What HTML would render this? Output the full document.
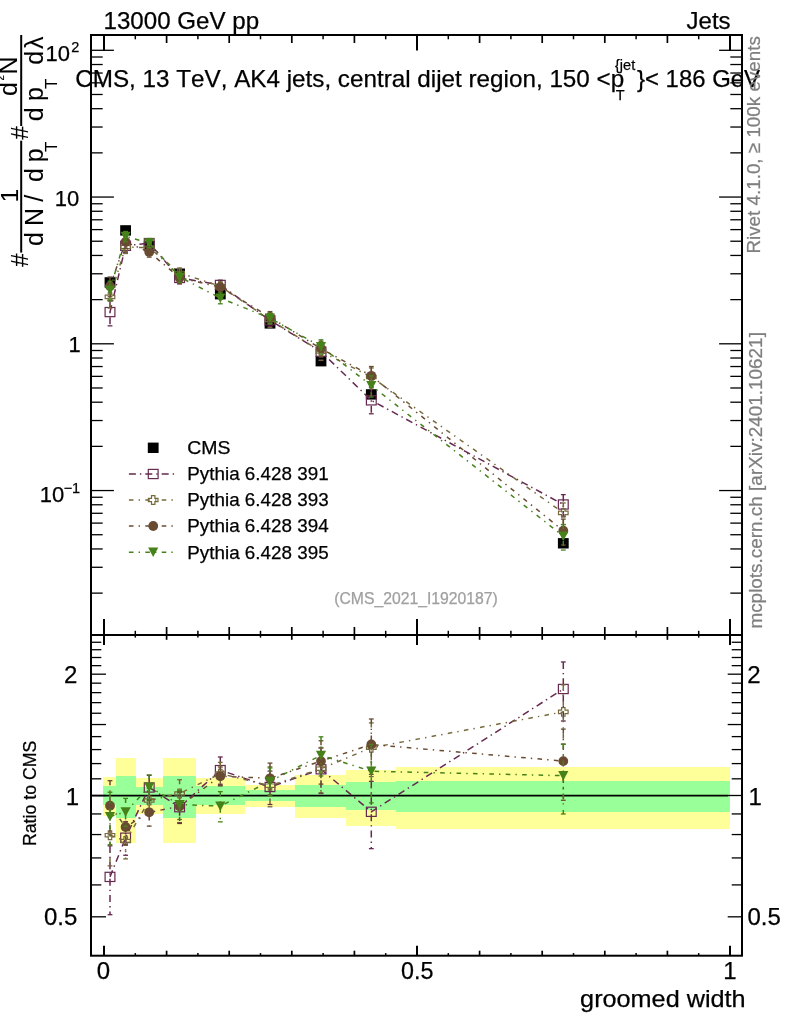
<!DOCTYPE html>
<html lang="en"><head><meta charset="utf-8"><title>groomed width</title>
<style>html,body{margin:0;padding:0;background:#fff}svg{display:block}</style></head>
<body>
<svg width="786" height="1024" viewBox="0 0 786 1024" font-family='"Liberation Sans", sans-serif' style="font-kerning:none" stroke-width="0.25">
<rect x="0.00" y="0.00" width="786.00" height="1024.00" fill="#fff" />
<g shape-rendering="crispEdges">
<rect x="103.20" y="777.30" width="12.90" height="38.20" fill="#ffff99" />
<rect x="116.10" y="758.30" width="19.50" height="84.20" fill="#ffff99" />
<rect x="135.60" y="777.60" width="27.70" height="36.40" fill="#ffff99" />
<rect x="163.30" y="758.30" width="32.60" height="84.50" fill="#ffff99" />
<rect x="195.90" y="777.60" width="49.10" height="36.60" fill="#ffff99" />
<rect x="245.00" y="784.80" width="50.10" height="22.00" fill="#ffff99" />
<rect x="295.10" y="775.40" width="50.90" height="42.10" fill="#ffff99" />
<rect x="346.00" y="769.80" width="50.40" height="55.70" fill="#ffff99" />
<rect x="396.40" y="767.20" width="333.30" height="61.70" fill="#ffff99" />
<rect x="103.20" y="786.40" width="12.90" height="18.90" fill="#99ff99" />
<rect x="116.10" y="776.20" width="19.50" height="41.30" fill="#99ff99" />
<rect x="135.60" y="786.60" width="27.70" height="17.90" fill="#99ff99" />
<rect x="163.30" y="776.20" width="32.60" height="41.60" fill="#99ff99" />
<rect x="195.90" y="786.10" width="49.10" height="18.50" fill="#99ff99" />
<rect x="245.00" y="790.20" width="50.10" height="10.80" fill="#99ff99" />
<rect x="295.10" y="784.90" width="50.90" height="21.60" fill="#99ff99" />
<rect x="346.00" y="782.00" width="50.40" height="27.90" fill="#99ff99" />
<rect x="396.40" y="780.50" width="333.30" height="31.30" fill="#99ff99" />
</g>
<line x1="91.00" y1="795.65" x2="728.00" y2="795.65" stroke="#000" stroke-width="1.6" />
<g id="ratio">
<polyline points="110.00,876.90 125.60,837.70 149.20,787.50 179.60,807.20 220.30,770.10 270.00,787.00 321.00,769.30 371.30,811.80 563.30,689.00" fill="none" stroke="#66294f" stroke-width="1.5" stroke-dasharray="7 4 1.4 4"/>
<line x1="110.00" y1="845.83" x2="110.00" y2="914.70" stroke="#66294f" stroke-width="1.5" stroke-dasharray="7 4 1.4 4"/>
<line x1="107.60" y1="845.83" x2="112.40" y2="845.83" stroke="#66294f" stroke-width="1.3" />
<line x1="107.60" y1="914.70" x2="112.40" y2="914.70" stroke="#66294f" stroke-width="1.3" />
<line x1="125.60" y1="821.74" x2="125.60" y2="855.26" stroke="#66294f" stroke-width="1.5" stroke-dasharray="7 4 1.4 4"/>
<line x1="123.20" y1="821.74" x2="128.00" y2="821.74" stroke="#66294f" stroke-width="1.3" />
<line x1="123.20" y1="855.26" x2="128.00" y2="855.26" stroke="#66294f" stroke-width="1.3" />
<line x1="149.20" y1="775.39" x2="149.20" y2="800.51" stroke="#66294f" stroke-width="1.5" stroke-dasharray="7 4 1.4 4"/>
<line x1="146.80" y1="775.39" x2="151.60" y2="775.39" stroke="#66294f" stroke-width="1.3" />
<line x1="146.80" y1="800.51" x2="151.60" y2="800.51" stroke="#66294f" stroke-width="1.3" />
<line x1="179.60" y1="792.32" x2="179.60" y2="823.46" stroke="#66294f" stroke-width="1.5" stroke-dasharray="7 4 1.4 4"/>
<line x1="177.20" y1="792.32" x2="182.00" y2="792.32" stroke="#66294f" stroke-width="1.3" />
<line x1="177.20" y1="823.46" x2="182.00" y2="823.46" stroke="#66294f" stroke-width="1.3" />
<line x1="220.30" y1="756.98" x2="220.30" y2="784.28" stroke="#66294f" stroke-width="1.5" stroke-dasharray="7 4 1.4 4"/>
<line x1="217.90" y1="756.98" x2="222.70" y2="756.98" stroke="#66294f" stroke-width="1.3" />
<line x1="217.90" y1="784.28" x2="222.70" y2="784.28" stroke="#66294f" stroke-width="1.3" />
<line x1="270.00" y1="771.07" x2="270.00" y2="804.52" stroke="#66294f" stroke-width="1.5" stroke-dasharray="7 4 1.4 4"/>
<line x1="267.60" y1="771.07" x2="272.40" y2="771.07" stroke="#66294f" stroke-width="1.3" />
<line x1="267.60" y1="804.52" x2="272.40" y2="804.52" stroke="#66294f" stroke-width="1.3" />
<line x1="321.00" y1="748.04" x2="321.00" y2="793.50" stroke="#66294f" stroke-width="1.5" stroke-dasharray="7 4 1.4 4"/>
<line x1="318.60" y1="748.04" x2="323.40" y2="748.04" stroke="#66294f" stroke-width="1.3" />
<line x1="318.60" y1="793.50" x2="323.40" y2="793.50" stroke="#66294f" stroke-width="1.3" />
<line x1="371.30" y1="781.37" x2="371.30" y2="848.66" stroke="#66294f" stroke-width="1.5" stroke-dasharray="7 4 1.4 4"/>
<line x1="368.90" y1="781.37" x2="373.70" y2="781.37" stroke="#66294f" stroke-width="1.3" />
<line x1="368.90" y1="848.66" x2="373.70" y2="848.66" stroke="#66294f" stroke-width="1.3" />
<line x1="563.30" y1="661.96" x2="563.30" y2="720.99" stroke="#66294f" stroke-width="1.5" stroke-dasharray="7 4 1.4 4"/>
<line x1="560.90" y1="661.96" x2="565.70" y2="661.96" stroke="#66294f" stroke-width="1.3" />
<line x1="560.90" y1="720.99" x2="565.70" y2="720.99" stroke="#66294f" stroke-width="1.3" />
<rect x="105.10" y="872.30" width="9.8" height="9.2" fill="none" stroke="#66294f" stroke-width="1.2"/>
<rect x="120.70" y="833.10" width="9.8" height="9.2" fill="none" stroke="#66294f" stroke-width="1.2"/>
<rect x="144.30" y="782.90" width="9.8" height="9.2" fill="none" stroke="#66294f" stroke-width="1.2"/>
<rect x="174.70" y="802.60" width="9.8" height="9.2" fill="none" stroke="#66294f" stroke-width="1.2"/>
<rect x="215.40" y="765.50" width="9.8" height="9.2" fill="none" stroke="#66294f" stroke-width="1.2"/>
<rect x="265.10" y="782.40" width="9.8" height="9.2" fill="none" stroke="#66294f" stroke-width="1.2"/>
<rect x="316.10" y="764.70" width="9.8" height="9.2" fill="none" stroke="#66294f" stroke-width="1.2"/>
<rect x="366.40" y="807.20" width="9.8" height="9.2" fill="none" stroke="#66294f" stroke-width="1.2"/>
<rect x="558.40" y="684.40" width="9.8" height="9.2" fill="none" stroke="#66294f" stroke-width="1.2"/>
<polyline points="110.00,835.20 125.60,841.00 149.20,800.50 179.60,793.50 220.30,773.60 270.00,785.70 321.00,768.70 371.30,747.70 563.30,711.90" fill="none" stroke="#766a3c" stroke-width="1.5" stroke-dasharray="4.6 5.1 1.4 5.3"/>
<line x1="110.00" y1="809.13" x2="110.00" y2="865.84" stroke="#766a3c" stroke-width="1.5" stroke-dasharray="4.6 5.1 1.4 5.3"/>
<line x1="107.60" y1="809.13" x2="112.40" y2="809.13" stroke="#766a3c" stroke-width="1.3" />
<line x1="107.60" y1="865.84" x2="112.40" y2="865.84" stroke="#766a3c" stroke-width="1.3" />
<line x1="125.60" y1="824.75" x2="125.60" y2="858.91" stroke="#766a3c" stroke-width="1.5" stroke-dasharray="4.6 5.1 1.4 5.3"/>
<line x1="123.20" y1="824.75" x2="128.00" y2="824.75" stroke="#766a3c" stroke-width="1.3" />
<line x1="123.20" y1="858.91" x2="128.00" y2="858.91" stroke="#766a3c" stroke-width="1.3" />
<line x1="149.20" y1="788.33" x2="149.20" y2="813.58" stroke="#766a3c" stroke-width="1.5" stroke-dasharray="4.6 5.1 1.4 5.3"/>
<line x1="146.80" y1="788.33" x2="151.60" y2="788.33" stroke="#766a3c" stroke-width="1.3" />
<line x1="146.80" y1="813.58" x2="151.60" y2="813.58" stroke="#766a3c" stroke-width="1.3" />
<line x1="179.60" y1="779.70" x2="179.60" y2="808.49" stroke="#766a3c" stroke-width="1.5" stroke-dasharray="4.6 5.1 1.4 5.3"/>
<line x1="177.20" y1="779.70" x2="182.00" y2="779.70" stroke="#766a3c" stroke-width="1.3" />
<line x1="177.20" y1="808.49" x2="182.00" y2="808.49" stroke="#766a3c" stroke-width="1.3" />
<line x1="220.30" y1="762.38" x2="220.30" y2="785.58" stroke="#766a3c" stroke-width="1.5" stroke-dasharray="4.6 5.1 1.4 5.3"/>
<line x1="217.90" y1="762.38" x2="222.70" y2="762.38" stroke="#766a3c" stroke-width="1.3" />
<line x1="217.90" y1="785.58" x2="222.70" y2="785.58" stroke="#766a3c" stroke-width="1.3" />
<line x1="270.00" y1="766.89" x2="270.00" y2="806.78" stroke="#766a3c" stroke-width="1.5" stroke-dasharray="4.6 5.1 1.4 5.3"/>
<line x1="267.60" y1="766.89" x2="272.40" y2="766.89" stroke="#766a3c" stroke-width="1.3" />
<line x1="267.60" y1="806.78" x2="272.40" y2="806.78" stroke="#766a3c" stroke-width="1.3" />
<line x1="321.00" y1="747.51" x2="321.00" y2="792.81" stroke="#766a3c" stroke-width="1.5" stroke-dasharray="4.6 5.1 1.4 5.3"/>
<line x1="318.60" y1="747.51" x2="323.40" y2="747.51" stroke="#766a3c" stroke-width="1.3" />
<line x1="318.60" y1="792.81" x2="323.40" y2="792.81" stroke="#766a3c" stroke-width="1.3" />
<line x1="371.30" y1="722.90" x2="371.30" y2="776.60" stroke="#766a3c" stroke-width="1.5" stroke-dasharray="4.6 5.1 1.4 5.3"/>
<line x1="368.90" y1="722.90" x2="373.70" y2="722.90" stroke="#766a3c" stroke-width="1.3" />
<line x1="368.90" y1="776.60" x2="373.70" y2="776.60" stroke="#766a3c" stroke-width="1.3" />
<line x1="563.30" y1="684.80" x2="563.30" y2="743.98" stroke="#766a3c" stroke-width="1.5" stroke-dasharray="4.6 5.1 1.4 5.3"/>
<line x1="560.90" y1="684.80" x2="565.70" y2="684.80" stroke="#766a3c" stroke-width="1.3" />
<line x1="560.90" y1="743.98" x2="565.70" y2="743.98" stroke="#766a3c" stroke-width="1.3" />
<polygon points="108.30,830.85 111.70,830.85 111.70,833.50 114.80,833.50 114.80,836.90 111.70,836.90 111.70,839.55 108.30,839.55 108.30,836.90 105.20,836.90 105.20,833.50 108.30,833.50" fill="none" stroke="#766a3c" stroke-width="1.2"/>
<polygon points="123.90,836.65 127.30,836.65 127.30,839.30 130.40,839.30 130.40,842.70 127.30,842.70 127.30,845.35 123.90,845.35 123.90,842.70 120.80,842.70 120.80,839.30 123.90,839.30" fill="none" stroke="#766a3c" stroke-width="1.2"/>
<polygon points="147.50,796.15 150.90,796.15 150.90,798.80 154.00,798.80 154.00,802.20 150.90,802.20 150.90,804.85 147.50,804.85 147.50,802.20 144.40,802.20 144.40,798.80 147.50,798.80" fill="none" stroke="#766a3c" stroke-width="1.2"/>
<polygon points="177.90,789.15 181.30,789.15 181.30,791.80 184.40,791.80 184.40,795.20 181.30,795.20 181.30,797.85 177.90,797.85 177.90,795.20 174.80,795.20 174.80,791.80 177.90,791.80" fill="none" stroke="#766a3c" stroke-width="1.2"/>
<polygon points="218.60,769.25 222.00,769.25 222.00,771.90 225.10,771.90 225.10,775.30 222.00,775.30 222.00,777.95 218.60,777.95 218.60,775.30 215.50,775.30 215.50,771.90 218.60,771.90" fill="none" stroke="#766a3c" stroke-width="1.2"/>
<polygon points="268.30,781.35 271.70,781.35 271.70,784.00 274.80,784.00 274.80,787.40 271.70,787.40 271.70,790.05 268.30,790.05 268.30,787.40 265.20,787.40 265.20,784.00 268.30,784.00" fill="none" stroke="#766a3c" stroke-width="1.2"/>
<polygon points="319.30,764.35 322.70,764.35 322.70,767.00 325.80,767.00 325.80,770.40 322.70,770.40 322.70,773.05 319.30,773.05 319.30,770.40 316.20,770.40 316.20,767.00 319.30,767.00" fill="none" stroke="#766a3c" stroke-width="1.2"/>
<polygon points="369.60,743.35 373.00,743.35 373.00,746.00 376.10,746.00 376.10,749.40 373.00,749.40 373.00,752.05 369.60,752.05 369.60,749.40 366.50,749.40 366.50,746.00 369.60,746.00" fill="none" stroke="#766a3c" stroke-width="1.2"/>
<polygon points="561.60,707.55 565.00,707.55 565.00,710.20 568.10,710.20 568.10,713.60 565.00,713.60 565.00,716.25 561.60,716.25 561.60,713.60 558.50,713.60 558.50,710.20 561.60,710.20" fill="none" stroke="#766a3c" stroke-width="1.2"/>
<polyline points="110.00,805.70 125.60,827.00 149.20,812.30 179.60,806.40 220.30,776.20 270.00,778.30 321.00,761.10 371.30,744.50 563.30,761.10" fill="none" stroke="#694b32" stroke-width="1.5" stroke-dasharray="4.6 5.1 1.4 5.3"/>
<line x1="110.00" y1="780.68" x2="110.00" y2="834.91" stroke="#694b32" stroke-width="1.5" stroke-dasharray="4.6 5.1 1.4 5.3"/>
<line x1="107.60" y1="780.68" x2="112.40" y2="780.68" stroke="#694b32" stroke-width="1.3" />
<line x1="107.60" y1="834.91" x2="112.40" y2="834.91" stroke="#694b32" stroke-width="1.3" />
<line x1="125.60" y1="810.99" x2="125.60" y2="844.62" stroke="#694b32" stroke-width="1.5" stroke-dasharray="4.6 5.1 1.4 5.3"/>
<line x1="123.20" y1="810.99" x2="128.00" y2="810.99" stroke="#694b32" stroke-width="1.3" />
<line x1="123.20" y1="844.62" x2="128.00" y2="844.62" stroke="#694b32" stroke-width="1.3" />
<line x1="149.20" y1="799.49" x2="149.20" y2="826.13" stroke="#694b32" stroke-width="1.5" stroke-dasharray="4.6 5.1 1.4 5.3"/>
<line x1="146.80" y1="799.49" x2="151.60" y2="799.49" stroke="#694b32" stroke-width="1.3" />
<line x1="146.80" y1="826.13" x2="151.60" y2="826.13" stroke="#694b32" stroke-width="1.3" />
<line x1="179.60" y1="791.58" x2="179.60" y2="822.59" stroke="#694b32" stroke-width="1.5" stroke-dasharray="4.6 5.1 1.4 5.3"/>
<line x1="177.20" y1="791.58" x2="182.00" y2="791.58" stroke="#694b32" stroke-width="1.3" />
<line x1="177.20" y1="822.59" x2="182.00" y2="822.59" stroke="#694b32" stroke-width="1.3" />
<line x1="220.30" y1="767.04" x2="220.30" y2="785.87" stroke="#694b32" stroke-width="1.5" stroke-dasharray="4.6 5.1 1.4 5.3"/>
<line x1="217.90" y1="767.04" x2="222.70" y2="767.04" stroke="#694b32" stroke-width="1.3" />
<line x1="217.90" y1="785.87" x2="222.70" y2="785.87" stroke="#694b32" stroke-width="1.3" />
<line x1="270.00" y1="763.11" x2="270.00" y2="794.93" stroke="#694b32" stroke-width="1.5" stroke-dasharray="4.6 5.1 1.4 5.3"/>
<line x1="267.60" y1="763.11" x2="272.40" y2="763.11" stroke="#694b32" stroke-width="1.3" />
<line x1="267.60" y1="794.93" x2="272.40" y2="794.93" stroke="#694b32" stroke-width="1.3" />
<line x1="321.00" y1="740.76" x2="321.00" y2="784.12" stroke="#694b32" stroke-width="1.5" stroke-dasharray="4.6 5.1 1.4 5.3"/>
<line x1="318.60" y1="740.76" x2="323.40" y2="740.76" stroke="#694b32" stroke-width="1.3" />
<line x1="318.60" y1="784.12" x2="323.40" y2="784.12" stroke="#694b32" stroke-width="1.3" />
<line x1="371.30" y1="718.99" x2="371.30" y2="774.37" stroke="#694b32" stroke-width="1.5" stroke-dasharray="4.6 5.1 1.4 5.3"/>
<line x1="368.90" y1="718.99" x2="373.70" y2="718.99" stroke="#694b32" stroke-width="1.3" />
<line x1="368.90" y1="774.37" x2="373.70" y2="774.37" stroke="#694b32" stroke-width="1.3" />
<line x1="563.30" y1="729.12" x2="563.30" y2="800.26" stroke="#694b32" stroke-width="1.5" stroke-dasharray="4.6 5.1 1.4 5.3"/>
<line x1="560.90" y1="729.12" x2="565.70" y2="729.12" stroke="#694b32" stroke-width="1.3" />
<line x1="560.90" y1="800.26" x2="565.70" y2="800.26" stroke="#694b32" stroke-width="1.3" />
<circle cx="110.00" cy="805.70" r="4.9" fill="#694b32"/>
<circle cx="125.60" cy="827.00" r="4.9" fill="#694b32"/>
<circle cx="149.20" cy="812.30" r="4.9" fill="#694b32"/>
<circle cx="179.60" cy="806.40" r="4.9" fill="#694b32"/>
<circle cx="220.30" cy="776.20" r="4.9" fill="#694b32"/>
<circle cx="270.00" cy="778.30" r="4.9" fill="#694b32"/>
<circle cx="321.00" cy="761.10" r="4.9" fill="#694b32"/>
<circle cx="371.30" cy="744.50" r="4.9" fill="#694b32"/>
<circle cx="563.30" cy="761.10" r="4.9" fill="#694b32"/>
<polyline points="110.00,816.50 125.60,811.90 149.20,787.00 179.60,804.50 220.30,806.10 270.00,781.30 321.00,755.30 371.30,771.20 563.30,775.70" fill="none" stroke="#468219" stroke-width="1.5" stroke-dasharray="4.6 5.1 1.4 5.3"/>
<line x1="110.00" y1="792.22" x2="110.00" y2="844.70" stroke="#468219" stroke-width="1.5" stroke-dasharray="4.6 5.1 1.4 5.3"/>
<line x1="107.60" y1="792.22" x2="112.40" y2="792.22" stroke="#468219" stroke-width="1.3" />
<line x1="107.60" y1="844.70" x2="112.40" y2="844.70" stroke="#468219" stroke-width="1.3" />
<line x1="125.60" y1="798.40" x2="125.60" y2="826.53" stroke="#468219" stroke-width="1.5" stroke-dasharray="4.6 5.1 1.4 5.3"/>
<line x1="123.20" y1="798.40" x2="128.00" y2="798.40" stroke="#468219" stroke-width="1.3" />
<line x1="123.20" y1="826.53" x2="128.00" y2="826.53" stroke="#468219" stroke-width="1.3" />
<line x1="149.20" y1="774.92" x2="149.20" y2="799.97" stroke="#468219" stroke-width="1.5" stroke-dasharray="4.6 5.1 1.4 5.3"/>
<line x1="146.80" y1="774.92" x2="151.60" y2="774.92" stroke="#468219" stroke-width="1.3" />
<line x1="146.80" y1="799.97" x2="151.60" y2="799.97" stroke="#468219" stroke-width="1.3" />
<line x1="179.60" y1="790.69" x2="179.60" y2="819.50" stroke="#468219" stroke-width="1.5" stroke-dasharray="4.6 5.1 1.4 5.3"/>
<line x1="177.20" y1="790.69" x2="182.00" y2="790.69" stroke="#468219" stroke-width="1.3" />
<line x1="177.20" y1="819.50" x2="182.00" y2="819.50" stroke="#468219" stroke-width="1.3" />
<line x1="220.30" y1="791.65" x2="220.30" y2="821.85" stroke="#468219" stroke-width="1.5" stroke-dasharray="4.6 5.1 1.4 5.3"/>
<line x1="217.90" y1="791.65" x2="222.70" y2="791.65" stroke="#468219" stroke-width="1.3" />
<line x1="217.90" y1="821.85" x2="222.70" y2="821.85" stroke="#468219" stroke-width="1.3" />
<line x1="270.00" y1="767.94" x2="270.00" y2="795.76" stroke="#468219" stroke-width="1.5" stroke-dasharray="4.6 5.1 1.4 5.3"/>
<line x1="267.60" y1="767.94" x2="272.40" y2="767.94" stroke="#468219" stroke-width="1.3" />
<line x1="267.60" y1="795.76" x2="272.40" y2="795.76" stroke="#468219" stroke-width="1.3" />
<line x1="321.00" y1="736.83" x2="321.00" y2="775.95" stroke="#468219" stroke-width="1.5" stroke-dasharray="4.6 5.1 1.4 5.3"/>
<line x1="318.60" y1="736.83" x2="323.40" y2="736.83" stroke="#468219" stroke-width="1.3" />
<line x1="318.60" y1="775.95" x2="323.40" y2="775.95" stroke="#468219" stroke-width="1.3" />
<line x1="371.30" y1="744.42" x2="371.30" y2="802.84" stroke="#468219" stroke-width="1.5" stroke-dasharray="4.6 5.1 1.4 5.3"/>
<line x1="368.90" y1="744.42" x2="373.70" y2="744.42" stroke="#468219" stroke-width="1.3" />
<line x1="368.90" y1="802.84" x2="373.70" y2="802.84" stroke="#468219" stroke-width="1.3" />
<line x1="563.30" y1="744.31" x2="563.30" y2="813.98" stroke="#468219" stroke-width="1.5" stroke-dasharray="4.6 5.1 1.4 5.3"/>
<line x1="560.90" y1="744.31" x2="565.70" y2="744.31" stroke="#468219" stroke-width="1.3" />
<line x1="560.90" y1="813.98" x2="565.70" y2="813.98" stroke="#468219" stroke-width="1.3" />
<polygon points="104.90,811.90 115.10,811.90 110.00,821.40" fill="#468219"/>
<polygon points="120.50,807.30 130.70,807.30 125.60,816.80" fill="#468219"/>
<polygon points="144.10,782.40 154.30,782.40 149.20,791.90" fill="#468219"/>
<polygon points="174.50,799.90 184.70,799.90 179.60,809.40" fill="#468219"/>
<polygon points="215.20,801.50 225.40,801.50 220.30,811.00" fill="#468219"/>
<polygon points="264.90,776.70 275.10,776.70 270.00,786.20" fill="#468219"/>
<polygon points="315.90,750.70 326.10,750.70 321.00,760.20" fill="#468219"/>
<polygon points="366.20,766.60 376.40,766.60 371.30,776.10" fill="#468219"/>
<polygon points="558.20,771.10 568.40,771.10 563.30,780.60" fill="#468219"/>
</g>
<g id="main">
<rect x="104.60" y="277.20" width="10.80" height="10.40" fill="#000" />
<rect x="120.20" y="225.20" width="10.80" height="10.40" fill="#000" />
<rect x="143.80" y="240.80" width="10.80" height="10.40" fill="#000" />
<rect x="174.20" y="268.50" width="10.80" height="10.40" fill="#000" />
<rect x="214.90" y="289.00" width="10.80" height="10.40" fill="#000" />
<rect x="264.60" y="318.20" width="10.80" height="10.40" fill="#000" />
<rect x="315.60" y="356.00" width="10.80" height="10.40" fill="#000" />
<rect x="365.90" y="389.20" width="10.80" height="10.40" fill="#000" />
<rect x="557.90" y="538.10" width="10.80" height="10.40" fill="#000" />
<polyline points="110.00,312.07 125.60,245.78 149.20,243.08 179.60,277.96 220.30,284.94 270.00,320.30 321.00,351.65 371.30,400.34 563.30,504.48" fill="none" stroke="#66294f" stroke-width="1.5" stroke-dasharray="7 4 1.4 4"/>
<line x1="110.00" y1="300.75" x2="110.00" y2="325.85" stroke="#66294f" stroke-width="1.5" stroke-dasharray="7 4 1.4 4"/>
<line x1="107.60" y1="300.75" x2="112.40" y2="300.75" stroke="#66294f" stroke-width="1.3" />
<line x1="107.60" y1="325.85" x2="112.40" y2="325.85" stroke="#66294f" stroke-width="1.3" />
<line x1="125.60" y1="239.97" x2="125.60" y2="252.18" stroke="#66294f" stroke-width="1.5" stroke-dasharray="7 4 1.4 4"/>
<line x1="123.20" y1="239.97" x2="128.00" y2="239.97" stroke="#66294f" stroke-width="1.3" />
<line x1="123.20" y1="252.18" x2="128.00" y2="252.18" stroke="#66294f" stroke-width="1.3" />
<line x1="149.20" y1="238.67" x2="149.20" y2="247.83" stroke="#66294f" stroke-width="1.5" stroke-dasharray="7 4 1.4 4"/>
<line x1="146.80" y1="238.67" x2="151.60" y2="238.67" stroke="#66294f" stroke-width="1.3" />
<line x1="146.80" y1="247.83" x2="151.60" y2="247.83" stroke="#66294f" stroke-width="1.3" />
<line x1="179.60" y1="272.54" x2="179.60" y2="283.89" stroke="#66294f" stroke-width="1.5" stroke-dasharray="7 4 1.4 4"/>
<line x1="177.20" y1="272.54" x2="182.00" y2="272.54" stroke="#66294f" stroke-width="1.3" />
<line x1="177.20" y1="283.89" x2="182.00" y2="283.89" stroke="#66294f" stroke-width="1.3" />
<line x1="220.30" y1="280.16" x2="220.30" y2="290.11" stroke="#66294f" stroke-width="1.5" stroke-dasharray="7 4 1.4 4"/>
<line x1="217.90" y1="280.16" x2="222.70" y2="280.16" stroke="#66294f" stroke-width="1.3" />
<line x1="217.90" y1="290.11" x2="222.70" y2="290.11" stroke="#66294f" stroke-width="1.3" />
<line x1="270.00" y1="314.50" x2="270.00" y2="326.69" stroke="#66294f" stroke-width="1.5" stroke-dasharray="7 4 1.4 4"/>
<line x1="267.60" y1="314.50" x2="272.40" y2="314.50" stroke="#66294f" stroke-width="1.3" />
<line x1="267.60" y1="326.69" x2="272.40" y2="326.69" stroke="#66294f" stroke-width="1.3" />
<line x1="321.00" y1="343.90" x2="321.00" y2="360.47" stroke="#66294f" stroke-width="1.5" stroke-dasharray="7 4 1.4 4"/>
<line x1="318.60" y1="343.90" x2="323.40" y2="343.90" stroke="#66294f" stroke-width="1.3" />
<line x1="318.60" y1="360.47" x2="323.40" y2="360.47" stroke="#66294f" stroke-width="1.3" />
<line x1="371.30" y1="389.25" x2="371.30" y2="413.78" stroke="#66294f" stroke-width="1.5" stroke-dasharray="7 4 1.4 4"/>
<line x1="368.90" y1="389.25" x2="373.70" y2="389.25" stroke="#66294f" stroke-width="1.3" />
<line x1="368.90" y1="413.78" x2="373.70" y2="413.78" stroke="#66294f" stroke-width="1.3" />
<line x1="563.30" y1="494.62" x2="563.30" y2="516.14" stroke="#66294f" stroke-width="1.5" stroke-dasharray="7 4 1.4 4"/>
<line x1="560.90" y1="494.62" x2="565.70" y2="494.62" stroke="#66294f" stroke-width="1.3" />
<line x1="560.90" y1="516.14" x2="565.70" y2="516.14" stroke="#66294f" stroke-width="1.3" />
<rect x="105.10" y="307.47" width="9.8" height="9.2" fill="none" stroke="#66294f" stroke-width="1.2"/>
<rect x="120.70" y="241.18" width="9.8" height="9.2" fill="none" stroke="#66294f" stroke-width="1.2"/>
<rect x="144.30" y="238.48" width="9.8" height="9.2" fill="none" stroke="#66294f" stroke-width="1.2"/>
<rect x="174.70" y="273.36" width="9.8" height="9.2" fill="none" stroke="#66294f" stroke-width="1.2"/>
<rect x="215.40" y="280.34" width="9.8" height="9.2" fill="none" stroke="#66294f" stroke-width="1.2"/>
<rect x="265.10" y="315.70" width="9.8" height="9.2" fill="none" stroke="#66294f" stroke-width="1.2"/>
<rect x="316.10" y="347.05" width="9.8" height="9.2" fill="none" stroke="#66294f" stroke-width="1.2"/>
<rect x="366.40" y="395.74" width="9.8" height="9.2" fill="none" stroke="#66294f" stroke-width="1.2"/>
<rect x="558.40" y="499.88" width="9.8" height="9.2" fill="none" stroke="#66294f" stroke-width="1.2"/>
<polyline points="110.00,296.87 125.60,246.99 149.20,247.82 179.60,272.97 220.30,286.22 270.00,319.83 321.00,351.43 371.30,376.98 563.30,512.83" fill="none" stroke="#766a3c" stroke-width="1.5" stroke-dasharray="4.6 5.1 1.4 5.3"/>
<line x1="110.00" y1="287.37" x2="110.00" y2="308.04" stroke="#766a3c" stroke-width="1.5" stroke-dasharray="4.6 5.1 1.4 5.3"/>
<line x1="107.60" y1="287.37" x2="112.40" y2="287.37" stroke="#766a3c" stroke-width="1.3" />
<line x1="107.60" y1="308.04" x2="112.40" y2="308.04" stroke="#766a3c" stroke-width="1.3" />
<line x1="125.60" y1="241.06" x2="125.60" y2="253.51" stroke="#766a3c" stroke-width="1.5" stroke-dasharray="4.6 5.1 1.4 5.3"/>
<line x1="123.20" y1="241.06" x2="128.00" y2="241.06" stroke="#766a3c" stroke-width="1.3" />
<line x1="123.20" y1="253.51" x2="128.00" y2="253.51" stroke="#766a3c" stroke-width="1.3" />
<line x1="149.20" y1="243.39" x2="149.20" y2="252.59" stroke="#766a3c" stroke-width="1.5" stroke-dasharray="4.6 5.1 1.4 5.3"/>
<line x1="146.80" y1="243.39" x2="151.60" y2="243.39" stroke="#766a3c" stroke-width="1.3" />
<line x1="146.80" y1="252.59" x2="151.60" y2="252.59" stroke="#766a3c" stroke-width="1.3" />
<line x1="179.60" y1="267.94" x2="179.60" y2="278.43" stroke="#766a3c" stroke-width="1.5" stroke-dasharray="4.6 5.1 1.4 5.3"/>
<line x1="177.20" y1="267.94" x2="182.00" y2="267.94" stroke="#766a3c" stroke-width="1.3" />
<line x1="177.20" y1="278.43" x2="182.00" y2="278.43" stroke="#766a3c" stroke-width="1.3" />
<line x1="220.30" y1="282.13" x2="220.30" y2="290.59" stroke="#766a3c" stroke-width="1.5" stroke-dasharray="4.6 5.1 1.4 5.3"/>
<line x1="217.90" y1="282.13" x2="222.70" y2="282.13" stroke="#766a3c" stroke-width="1.3" />
<line x1="217.90" y1="290.59" x2="222.70" y2="290.59" stroke="#766a3c" stroke-width="1.3" />
<line x1="270.00" y1="312.97" x2="270.00" y2="327.51" stroke="#766a3c" stroke-width="1.5" stroke-dasharray="4.6 5.1 1.4 5.3"/>
<line x1="267.60" y1="312.97" x2="272.40" y2="312.97" stroke="#766a3c" stroke-width="1.3" />
<line x1="267.60" y1="327.51" x2="272.40" y2="327.51" stroke="#766a3c" stroke-width="1.3" />
<line x1="321.00" y1="343.71" x2="321.00" y2="360.22" stroke="#766a3c" stroke-width="1.5" stroke-dasharray="4.6 5.1 1.4 5.3"/>
<line x1="318.60" y1="343.71" x2="323.40" y2="343.71" stroke="#766a3c" stroke-width="1.3" />
<line x1="318.60" y1="360.22" x2="323.40" y2="360.22" stroke="#766a3c" stroke-width="1.3" />
<line x1="371.30" y1="367.94" x2="371.30" y2="387.51" stroke="#766a3c" stroke-width="1.5" stroke-dasharray="4.6 5.1 1.4 5.3"/>
<line x1="368.90" y1="367.94" x2="373.70" y2="367.94" stroke="#766a3c" stroke-width="1.3" />
<line x1="368.90" y1="387.51" x2="373.70" y2="387.51" stroke="#766a3c" stroke-width="1.3" />
<line x1="563.30" y1="502.95" x2="563.30" y2="524.52" stroke="#766a3c" stroke-width="1.5" stroke-dasharray="4.6 5.1 1.4 5.3"/>
<line x1="560.90" y1="502.95" x2="565.70" y2="502.95" stroke="#766a3c" stroke-width="1.3" />
<line x1="560.90" y1="524.52" x2="565.70" y2="524.52" stroke="#766a3c" stroke-width="1.3" />
<polygon points="108.30,292.52 111.70,292.52 111.70,295.17 114.80,295.17 114.80,298.57 111.70,298.57 111.70,301.22 108.30,301.22 108.30,298.57 105.20,298.57 105.20,295.17 108.30,295.17" fill="none" stroke="#766a3c" stroke-width="1.2"/>
<polygon points="123.90,242.64 127.30,242.64 127.30,245.29 130.40,245.29 130.40,248.69 127.30,248.69 127.30,251.34 123.90,251.34 123.90,248.69 120.80,248.69 120.80,245.29 123.90,245.29" fill="none" stroke="#766a3c" stroke-width="1.2"/>
<polygon points="147.50,243.47 150.90,243.47 150.90,246.12 154.00,246.12 154.00,249.52 150.90,249.52 150.90,252.17 147.50,252.17 147.50,249.52 144.40,249.52 144.40,246.12 147.50,246.12" fill="none" stroke="#766a3c" stroke-width="1.2"/>
<polygon points="177.90,268.62 181.30,268.62 181.30,271.27 184.40,271.27 184.40,274.67 181.30,274.67 181.30,277.32 177.90,277.32 177.90,274.67 174.80,274.67 174.80,271.27 177.90,271.27" fill="none" stroke="#766a3c" stroke-width="1.2"/>
<polygon points="218.60,281.87 222.00,281.87 222.00,284.52 225.10,284.52 225.10,287.92 222.00,287.92 222.00,290.57 218.60,290.57 218.60,287.92 215.50,287.92 215.50,284.52 218.60,284.52" fill="none" stroke="#766a3c" stroke-width="1.2"/>
<polygon points="268.30,315.48 271.70,315.48 271.70,318.13 274.80,318.13 274.80,321.53 271.70,321.53 271.70,324.18 268.30,324.18 268.30,321.53 265.20,321.53 265.20,318.13 268.30,318.13" fill="none" stroke="#766a3c" stroke-width="1.2"/>
<polygon points="319.30,347.08 322.70,347.08 322.70,349.73 325.80,349.73 325.80,353.13 322.70,353.13 322.70,355.78 319.30,355.78 319.30,353.13 316.20,353.13 316.20,349.73 319.30,349.73" fill="none" stroke="#766a3c" stroke-width="1.2"/>
<polygon points="369.60,372.63 373.00,372.63 373.00,375.28 376.10,375.28 376.10,378.68 373.00,378.68 373.00,381.33 369.60,381.33 369.60,378.68 366.50,378.68 366.50,375.28 369.60,375.28" fill="none" stroke="#766a3c" stroke-width="1.2"/>
<polygon points="561.60,508.48 565.00,508.48 565.00,511.13 568.10,511.13 568.10,514.53 565.00,514.53 565.00,517.18 561.60,517.18 561.60,514.53 558.50,514.53 558.50,511.13 561.60,511.13" fill="none" stroke="#766a3c" stroke-width="1.2"/>
<polyline points="110.00,286.12 125.60,241.88 149.20,252.12 179.60,277.67 220.30,287.16 270.00,317.13 321.00,348.66 371.30,375.81 563.30,530.76" fill="none" stroke="#694b32" stroke-width="1.5" stroke-dasharray="4.6 5.1 1.4 5.3"/>
<line x1="110.00" y1="277.00" x2="110.00" y2="296.76" stroke="#694b32" stroke-width="1.5" stroke-dasharray="4.6 5.1 1.4 5.3"/>
<line x1="107.60" y1="277.00" x2="112.40" y2="277.00" stroke="#694b32" stroke-width="1.3" />
<line x1="107.60" y1="296.76" x2="112.40" y2="296.76" stroke="#694b32" stroke-width="1.3" />
<line x1="125.60" y1="236.05" x2="125.60" y2="248.31" stroke="#694b32" stroke-width="1.5" stroke-dasharray="4.6 5.1 1.4 5.3"/>
<line x1="123.20" y1="236.05" x2="128.00" y2="236.05" stroke="#694b32" stroke-width="1.3" />
<line x1="123.20" y1="248.31" x2="128.00" y2="248.31" stroke="#694b32" stroke-width="1.3" />
<line x1="149.20" y1="247.45" x2="149.20" y2="257.16" stroke="#694b32" stroke-width="1.5" stroke-dasharray="4.6 5.1 1.4 5.3"/>
<line x1="146.80" y1="247.45" x2="151.60" y2="247.45" stroke="#694b32" stroke-width="1.3" />
<line x1="146.80" y1="257.16" x2="151.60" y2="257.16" stroke="#694b32" stroke-width="1.3" />
<line x1="179.60" y1="272.27" x2="179.60" y2="283.57" stroke="#694b32" stroke-width="1.5" stroke-dasharray="4.6 5.1 1.4 5.3"/>
<line x1="177.20" y1="272.27" x2="182.00" y2="272.27" stroke="#694b32" stroke-width="1.3" />
<line x1="177.20" y1="283.57" x2="182.00" y2="283.57" stroke="#694b32" stroke-width="1.3" />
<line x1="220.30" y1="283.83" x2="220.30" y2="290.69" stroke="#694b32" stroke-width="1.5" stroke-dasharray="4.6 5.1 1.4 5.3"/>
<line x1="217.90" y1="283.83" x2="222.70" y2="283.83" stroke="#694b32" stroke-width="1.3" />
<line x1="217.90" y1="290.69" x2="222.70" y2="290.69" stroke="#694b32" stroke-width="1.3" />
<line x1="270.00" y1="311.59" x2="270.00" y2="323.19" stroke="#694b32" stroke-width="1.5" stroke-dasharray="4.6 5.1 1.4 5.3"/>
<line x1="267.60" y1="311.59" x2="272.40" y2="311.59" stroke="#694b32" stroke-width="1.3" />
<line x1="267.60" y1="323.19" x2="272.40" y2="323.19" stroke="#694b32" stroke-width="1.3" />
<line x1="321.00" y1="341.25" x2="321.00" y2="357.05" stroke="#694b32" stroke-width="1.5" stroke-dasharray="4.6 5.1 1.4 5.3"/>
<line x1="318.60" y1="341.25" x2="323.40" y2="341.25" stroke="#694b32" stroke-width="1.3" />
<line x1="318.60" y1="357.05" x2="323.40" y2="357.05" stroke="#694b32" stroke-width="1.3" />
<line x1="371.30" y1="366.51" x2="371.30" y2="386.70" stroke="#694b32" stroke-width="1.5" stroke-dasharray="4.6 5.1 1.4 5.3"/>
<line x1="368.90" y1="366.51" x2="373.70" y2="366.51" stroke="#694b32" stroke-width="1.3" />
<line x1="368.90" y1="386.70" x2="373.70" y2="386.70" stroke="#694b32" stroke-width="1.3" />
<line x1="563.30" y1="519.10" x2="563.30" y2="545.03" stroke="#694b32" stroke-width="1.5" stroke-dasharray="4.6 5.1 1.4 5.3"/>
<line x1="560.90" y1="519.10" x2="565.70" y2="519.10" stroke="#694b32" stroke-width="1.3" />
<line x1="560.90" y1="545.03" x2="565.70" y2="545.03" stroke="#694b32" stroke-width="1.3" />
<circle cx="110.00" cy="286.12" r="4.9" fill="#694b32"/>
<circle cx="125.60" cy="241.88" r="4.9" fill="#694b32"/>
<circle cx="149.20" cy="252.12" r="4.9" fill="#694b32"/>
<circle cx="179.60" cy="277.67" r="4.9" fill="#694b32"/>
<circle cx="220.30" cy="287.16" r="4.9" fill="#694b32"/>
<circle cx="270.00" cy="317.13" r="4.9" fill="#694b32"/>
<circle cx="321.00" cy="348.66" r="4.9" fill="#694b32"/>
<circle cx="371.30" cy="375.81" r="4.9" fill="#694b32"/>
<circle cx="563.30" cy="530.76" r="4.9" fill="#694b32"/>
<polyline points="110.00,290.05 125.60,236.38 149.20,242.90 179.60,276.98 220.30,298.06 270.00,318.22 321.00,346.55 371.30,385.54 563.30,536.08" fill="none" stroke="#468219" stroke-width="1.5" stroke-dasharray="4.6 5.1 1.4 5.3"/>
<line x1="110.00" y1="281.20" x2="110.00" y2="300.34" stroke="#468219" stroke-width="1.5" stroke-dasharray="4.6 5.1 1.4 5.3"/>
<line x1="107.60" y1="281.20" x2="112.40" y2="281.20" stroke="#468219" stroke-width="1.3" />
<line x1="107.60" y1="300.34" x2="112.40" y2="300.34" stroke="#468219" stroke-width="1.3" />
<line x1="125.60" y1="231.46" x2="125.60" y2="241.71" stroke="#468219" stroke-width="1.5" stroke-dasharray="4.6 5.1 1.4 5.3"/>
<line x1="123.20" y1="231.46" x2="128.00" y2="231.46" stroke="#468219" stroke-width="1.3" />
<line x1="123.20" y1="241.71" x2="128.00" y2="241.71" stroke="#468219" stroke-width="1.3" />
<line x1="149.20" y1="238.50" x2="149.20" y2="247.63" stroke="#468219" stroke-width="1.5" stroke-dasharray="4.6 5.1 1.4 5.3"/>
<line x1="146.80" y1="238.50" x2="151.60" y2="238.50" stroke="#468219" stroke-width="1.3" />
<line x1="146.80" y1="247.63" x2="151.60" y2="247.63" stroke="#468219" stroke-width="1.3" />
<line x1="179.60" y1="271.95" x2="179.60" y2="282.45" stroke="#468219" stroke-width="1.5" stroke-dasharray="4.6 5.1 1.4 5.3"/>
<line x1="177.20" y1="271.95" x2="182.00" y2="271.95" stroke="#468219" stroke-width="1.3" />
<line x1="177.20" y1="282.45" x2="182.00" y2="282.45" stroke="#468219" stroke-width="1.3" />
<line x1="220.30" y1="292.80" x2="220.30" y2="303.80" stroke="#468219" stroke-width="1.5" stroke-dasharray="4.6 5.1 1.4 5.3"/>
<line x1="217.90" y1="292.80" x2="222.70" y2="292.80" stroke="#468219" stroke-width="1.3" />
<line x1="217.90" y1="303.80" x2="222.70" y2="303.80" stroke="#468219" stroke-width="1.3" />
<line x1="270.00" y1="313.36" x2="270.00" y2="323.49" stroke="#468219" stroke-width="1.5" stroke-dasharray="4.6 5.1 1.4 5.3"/>
<line x1="267.60" y1="313.36" x2="272.40" y2="313.36" stroke="#468219" stroke-width="1.3" />
<line x1="267.60" y1="323.49" x2="272.40" y2="323.49" stroke="#468219" stroke-width="1.3" />
<line x1="321.00" y1="339.82" x2="321.00" y2="354.07" stroke="#468219" stroke-width="1.5" stroke-dasharray="4.6 5.1 1.4 5.3"/>
<line x1="318.60" y1="339.82" x2="323.40" y2="339.82" stroke="#468219" stroke-width="1.3" />
<line x1="318.60" y1="354.07" x2="323.40" y2="354.07" stroke="#468219" stroke-width="1.3" />
<line x1="371.30" y1="375.78" x2="371.30" y2="397.07" stroke="#468219" stroke-width="1.5" stroke-dasharray="4.6 5.1 1.4 5.3"/>
<line x1="368.90" y1="375.78" x2="373.70" y2="375.78" stroke="#468219" stroke-width="1.3" />
<line x1="368.90" y1="397.07" x2="373.70" y2="397.07" stroke="#468219" stroke-width="1.3" />
<line x1="563.30" y1="524.64" x2="563.30" y2="550.04" stroke="#468219" stroke-width="1.5" stroke-dasharray="4.6 5.1 1.4 5.3"/>
<line x1="560.90" y1="524.64" x2="565.70" y2="524.64" stroke="#468219" stroke-width="1.3" />
<line x1="560.90" y1="550.04" x2="565.70" y2="550.04" stroke="#468219" stroke-width="1.3" />
<polygon points="104.90,285.45 115.10,285.45 110.00,294.95" fill="#468219"/>
<polygon points="120.50,231.78 130.70,231.78 125.60,241.28" fill="#468219"/>
<polygon points="144.10,238.30 154.30,238.30 149.20,247.80" fill="#468219"/>
<polygon points="174.50,272.38 184.70,272.38 179.60,281.88" fill="#468219"/>
<polygon points="215.20,293.46 225.40,293.46 220.30,302.96" fill="#468219"/>
<polygon points="264.90,313.62 275.10,313.62 270.00,323.12" fill="#468219"/>
<polygon points="315.90,341.95 326.10,341.95 321.00,351.45" fill="#468219"/>
<polygon points="366.20,380.94 376.40,380.94 371.30,390.44" fill="#468219"/>
<polygon points="558.20,531.48 568.40,531.48 563.30,540.98" fill="#468219"/>
</g>
<g id="frame" stroke="#000" fill="none">
<rect x="91.0" y="35.0" width="651.0" height="920.70" stroke-width="2"/>
<line x1="91.0" y1="635.0" x2="742.0" y2="635.0" stroke-width="2"/>
</g>
<line x1="104.00" y1="35.00" x2="104.00" y2="50.50" stroke="#000" stroke-width="2" />
<line x1="104.00" y1="619.00" x2="104.00" y2="645.00" stroke="#000" stroke-width="2" />
<line x1="104.00" y1="955.70" x2="104.00" y2="945.70" stroke="#000" stroke-width="2" />
<line x1="135.30" y1="35.00" x2="135.30" y2="39.30" stroke="#000" stroke-width="1.5" />
<line x1="135.30" y1="630.80" x2="135.30" y2="637.60" stroke="#000" stroke-width="1.5" />
<line x1="135.30" y1="955.70" x2="135.30" y2="953.10" stroke="#000" stroke-width="1.5" />
<line x1="166.60" y1="35.00" x2="166.60" y2="43.00" stroke="#000" stroke-width="1.7" />
<line x1="166.60" y1="627.00" x2="166.60" y2="639.80" stroke="#000" stroke-width="1.7" />
<line x1="166.60" y1="955.70" x2="166.60" y2="950.70" stroke="#000" stroke-width="1.7" />
<line x1="197.90" y1="35.00" x2="197.90" y2="39.30" stroke="#000" stroke-width="1.5" />
<line x1="197.90" y1="630.80" x2="197.90" y2="637.60" stroke="#000" stroke-width="1.5" />
<line x1="197.90" y1="955.70" x2="197.90" y2="953.10" stroke="#000" stroke-width="1.5" />
<line x1="229.20" y1="35.00" x2="229.20" y2="43.00" stroke="#000" stroke-width="1.7" />
<line x1="229.20" y1="627.00" x2="229.20" y2="639.80" stroke="#000" stroke-width="1.7" />
<line x1="229.20" y1="955.70" x2="229.20" y2="950.70" stroke="#000" stroke-width="1.7" />
<line x1="260.50" y1="35.00" x2="260.50" y2="39.30" stroke="#000" stroke-width="1.5" />
<line x1="260.50" y1="630.80" x2="260.50" y2="637.60" stroke="#000" stroke-width="1.5" />
<line x1="260.50" y1="955.70" x2="260.50" y2="953.10" stroke="#000" stroke-width="1.5" />
<line x1="291.80" y1="35.00" x2="291.80" y2="43.00" stroke="#000" stroke-width="1.7" />
<line x1="291.80" y1="627.00" x2="291.80" y2="639.80" stroke="#000" stroke-width="1.7" />
<line x1="291.80" y1="955.70" x2="291.80" y2="950.70" stroke="#000" stroke-width="1.7" />
<line x1="323.10" y1="35.00" x2="323.10" y2="39.30" stroke="#000" stroke-width="1.5" />
<line x1="323.10" y1="630.80" x2="323.10" y2="637.60" stroke="#000" stroke-width="1.5" />
<line x1="323.10" y1="955.70" x2="323.10" y2="953.10" stroke="#000" stroke-width="1.5" />
<line x1="354.40" y1="35.00" x2="354.40" y2="43.00" stroke="#000" stroke-width="1.7" />
<line x1="354.40" y1="627.00" x2="354.40" y2="639.80" stroke="#000" stroke-width="1.7" />
<line x1="354.40" y1="955.70" x2="354.40" y2="950.70" stroke="#000" stroke-width="1.7" />
<line x1="385.70" y1="35.00" x2="385.70" y2="39.30" stroke="#000" stroke-width="1.5" />
<line x1="385.70" y1="630.80" x2="385.70" y2="637.60" stroke="#000" stroke-width="1.5" />
<line x1="385.70" y1="955.70" x2="385.70" y2="953.10" stroke="#000" stroke-width="1.5" />
<line x1="417.00" y1="35.00" x2="417.00" y2="50.50" stroke="#000" stroke-width="2" />
<line x1="417.00" y1="619.00" x2="417.00" y2="645.00" stroke="#000" stroke-width="2" />
<line x1="417.00" y1="955.70" x2="417.00" y2="945.70" stroke="#000" stroke-width="2" />
<line x1="448.30" y1="35.00" x2="448.30" y2="39.30" stroke="#000" stroke-width="1.5" />
<line x1="448.30" y1="630.80" x2="448.30" y2="637.60" stroke="#000" stroke-width="1.5" />
<line x1="448.30" y1="955.70" x2="448.30" y2="953.10" stroke="#000" stroke-width="1.5" />
<line x1="479.60" y1="35.00" x2="479.60" y2="43.00" stroke="#000" stroke-width="1.7" />
<line x1="479.60" y1="627.00" x2="479.60" y2="639.80" stroke="#000" stroke-width="1.7" />
<line x1="479.60" y1="955.70" x2="479.60" y2="950.70" stroke="#000" stroke-width="1.7" />
<line x1="510.90" y1="35.00" x2="510.90" y2="39.30" stroke="#000" stroke-width="1.5" />
<line x1="510.90" y1="630.80" x2="510.90" y2="637.60" stroke="#000" stroke-width="1.5" />
<line x1="510.90" y1="955.70" x2="510.90" y2="953.10" stroke="#000" stroke-width="1.5" />
<line x1="542.20" y1="35.00" x2="542.20" y2="43.00" stroke="#000" stroke-width="1.7" />
<line x1="542.20" y1="627.00" x2="542.20" y2="639.80" stroke="#000" stroke-width="1.7" />
<line x1="542.20" y1="955.70" x2="542.20" y2="950.70" stroke="#000" stroke-width="1.7" />
<line x1="573.50" y1="35.00" x2="573.50" y2="39.30" stroke="#000" stroke-width="1.5" />
<line x1="573.50" y1="630.80" x2="573.50" y2="637.60" stroke="#000" stroke-width="1.5" />
<line x1="573.50" y1="955.70" x2="573.50" y2="953.10" stroke="#000" stroke-width="1.5" />
<line x1="604.80" y1="35.00" x2="604.80" y2="43.00" stroke="#000" stroke-width="1.7" />
<line x1="604.80" y1="627.00" x2="604.80" y2="639.80" stroke="#000" stroke-width="1.7" />
<line x1="604.80" y1="955.70" x2="604.80" y2="950.70" stroke="#000" stroke-width="1.7" />
<line x1="636.10" y1="35.00" x2="636.10" y2="39.30" stroke="#000" stroke-width="1.5" />
<line x1="636.10" y1="630.80" x2="636.10" y2="637.60" stroke="#000" stroke-width="1.5" />
<line x1="636.10" y1="955.70" x2="636.10" y2="953.10" stroke="#000" stroke-width="1.5" />
<line x1="667.40" y1="35.00" x2="667.40" y2="43.00" stroke="#000" stroke-width="1.7" />
<line x1="667.40" y1="627.00" x2="667.40" y2="639.80" stroke="#000" stroke-width="1.7" />
<line x1="667.40" y1="955.70" x2="667.40" y2="950.70" stroke="#000" stroke-width="1.7" />
<line x1="698.70" y1="35.00" x2="698.70" y2="39.30" stroke="#000" stroke-width="1.5" />
<line x1="698.70" y1="630.80" x2="698.70" y2="637.60" stroke="#000" stroke-width="1.5" />
<line x1="698.70" y1="955.70" x2="698.70" y2="953.10" stroke="#000" stroke-width="1.5" />
<line x1="730.00" y1="35.00" x2="730.00" y2="50.50" stroke="#000" stroke-width="2" />
<line x1="730.00" y1="619.00" x2="730.00" y2="645.00" stroke="#000" stroke-width="2" />
<line x1="730.00" y1="955.70" x2="730.00" y2="945.70" stroke="#000" stroke-width="2" />
<line x1="91.00" y1="593.12" x2="102.70" y2="593.12" stroke="#000" stroke-width="1.3" />
<line x1="742.00" y1="593.12" x2="730.30" y2="593.12" stroke="#000" stroke-width="1.3" />
<line x1="91.00" y1="567.28" x2="102.70" y2="567.28" stroke="#000" stroke-width="1.3" />
<line x1="742.00" y1="567.28" x2="730.30" y2="567.28" stroke="#000" stroke-width="1.3" />
<line x1="91.00" y1="548.95" x2="102.70" y2="548.95" stroke="#000" stroke-width="1.3" />
<line x1="742.00" y1="548.95" x2="730.30" y2="548.95" stroke="#000" stroke-width="1.3" />
<line x1="91.00" y1="534.73" x2="102.70" y2="534.73" stroke="#000" stroke-width="1.3" />
<line x1="742.00" y1="534.73" x2="730.30" y2="534.73" stroke="#000" stroke-width="1.3" />
<line x1="91.00" y1="523.11" x2="102.70" y2="523.11" stroke="#000" stroke-width="1.3" />
<line x1="742.00" y1="523.11" x2="730.30" y2="523.11" stroke="#000" stroke-width="1.3" />
<line x1="91.00" y1="513.28" x2="102.70" y2="513.28" stroke="#000" stroke-width="1.3" />
<line x1="742.00" y1="513.28" x2="730.30" y2="513.28" stroke="#000" stroke-width="1.3" />
<line x1="91.00" y1="504.77" x2="102.70" y2="504.77" stroke="#000" stroke-width="1.3" />
<line x1="742.00" y1="504.77" x2="730.30" y2="504.77" stroke="#000" stroke-width="1.3" />
<line x1="91.00" y1="497.26" x2="102.70" y2="497.26" stroke="#000" stroke-width="1.3" />
<line x1="742.00" y1="497.26" x2="730.30" y2="497.26" stroke="#000" stroke-width="1.3" />
<line x1="91.00" y1="490.55" x2="113.90" y2="490.55" stroke="#000" stroke-width="1.3" />
<line x1="742.00" y1="490.55" x2="719.10" y2="490.55" stroke="#000" stroke-width="1.3" />
<line x1="91.00" y1="446.37" x2="102.70" y2="446.37" stroke="#000" stroke-width="1.3" />
<line x1="742.00" y1="446.37" x2="730.30" y2="446.37" stroke="#000" stroke-width="1.3" />
<line x1="91.00" y1="420.53" x2="102.70" y2="420.53" stroke="#000" stroke-width="1.3" />
<line x1="742.00" y1="420.53" x2="730.30" y2="420.53" stroke="#000" stroke-width="1.3" />
<line x1="91.00" y1="402.20" x2="102.70" y2="402.20" stroke="#000" stroke-width="1.3" />
<line x1="742.00" y1="402.20" x2="730.30" y2="402.20" stroke="#000" stroke-width="1.3" />
<line x1="91.00" y1="387.98" x2="102.70" y2="387.98" stroke="#000" stroke-width="1.3" />
<line x1="742.00" y1="387.98" x2="730.30" y2="387.98" stroke="#000" stroke-width="1.3" />
<line x1="91.00" y1="376.36" x2="102.70" y2="376.36" stroke="#000" stroke-width="1.3" />
<line x1="742.00" y1="376.36" x2="730.30" y2="376.36" stroke="#000" stroke-width="1.3" />
<line x1="91.00" y1="366.53" x2="102.70" y2="366.53" stroke="#000" stroke-width="1.3" />
<line x1="742.00" y1="366.53" x2="730.30" y2="366.53" stroke="#000" stroke-width="1.3" />
<line x1="91.00" y1="358.02" x2="102.70" y2="358.02" stroke="#000" stroke-width="1.3" />
<line x1="742.00" y1="358.02" x2="730.30" y2="358.02" stroke="#000" stroke-width="1.3" />
<line x1="91.00" y1="350.51" x2="102.70" y2="350.51" stroke="#000" stroke-width="1.3" />
<line x1="742.00" y1="350.51" x2="730.30" y2="350.51" stroke="#000" stroke-width="1.3" />
<line x1="91.00" y1="343.80" x2="113.90" y2="343.80" stroke="#000" stroke-width="1.3" />
<line x1="742.00" y1="343.80" x2="719.10" y2="343.80" stroke="#000" stroke-width="1.3" />
<line x1="91.00" y1="299.62" x2="102.70" y2="299.62" stroke="#000" stroke-width="1.3" />
<line x1="742.00" y1="299.62" x2="730.30" y2="299.62" stroke="#000" stroke-width="1.3" />
<line x1="91.00" y1="273.78" x2="102.70" y2="273.78" stroke="#000" stroke-width="1.3" />
<line x1="742.00" y1="273.78" x2="730.30" y2="273.78" stroke="#000" stroke-width="1.3" />
<line x1="91.00" y1="255.45" x2="102.70" y2="255.45" stroke="#000" stroke-width="1.3" />
<line x1="742.00" y1="255.45" x2="730.30" y2="255.45" stroke="#000" stroke-width="1.3" />
<line x1="91.00" y1="241.23" x2="102.70" y2="241.23" stroke="#000" stroke-width="1.3" />
<line x1="742.00" y1="241.23" x2="730.30" y2="241.23" stroke="#000" stroke-width="1.3" />
<line x1="91.00" y1="229.61" x2="102.70" y2="229.61" stroke="#000" stroke-width="1.3" />
<line x1="742.00" y1="229.61" x2="730.30" y2="229.61" stroke="#000" stroke-width="1.3" />
<line x1="91.00" y1="219.78" x2="102.70" y2="219.78" stroke="#000" stroke-width="1.3" />
<line x1="742.00" y1="219.78" x2="730.30" y2="219.78" stroke="#000" stroke-width="1.3" />
<line x1="91.00" y1="211.27" x2="102.70" y2="211.27" stroke="#000" stroke-width="1.3" />
<line x1="742.00" y1="211.27" x2="730.30" y2="211.27" stroke="#000" stroke-width="1.3" />
<line x1="91.00" y1="203.76" x2="102.70" y2="203.76" stroke="#000" stroke-width="1.3" />
<line x1="742.00" y1="203.76" x2="730.30" y2="203.76" stroke="#000" stroke-width="1.3" />
<line x1="91.00" y1="197.05" x2="113.90" y2="197.05" stroke="#000" stroke-width="1.3" />
<line x1="742.00" y1="197.05" x2="719.10" y2="197.05" stroke="#000" stroke-width="1.3" />
<line x1="91.00" y1="152.87" x2="102.70" y2="152.87" stroke="#000" stroke-width="1.3" />
<line x1="742.00" y1="152.87" x2="730.30" y2="152.87" stroke="#000" stroke-width="1.3" />
<line x1="91.00" y1="127.03" x2="102.70" y2="127.03" stroke="#000" stroke-width="1.3" />
<line x1="742.00" y1="127.03" x2="730.30" y2="127.03" stroke="#000" stroke-width="1.3" />
<line x1="91.00" y1="108.70" x2="102.70" y2="108.70" stroke="#000" stroke-width="1.3" />
<line x1="742.00" y1="108.70" x2="730.30" y2="108.70" stroke="#000" stroke-width="1.3" />
<line x1="91.00" y1="94.48" x2="102.70" y2="94.48" stroke="#000" stroke-width="1.3" />
<line x1="742.00" y1="94.48" x2="730.30" y2="94.48" stroke="#000" stroke-width="1.3" />
<line x1="91.00" y1="82.86" x2="102.70" y2="82.86" stroke="#000" stroke-width="1.3" />
<line x1="742.00" y1="82.86" x2="730.30" y2="82.86" stroke="#000" stroke-width="1.3" />
<line x1="91.00" y1="73.03" x2="102.70" y2="73.03" stroke="#000" stroke-width="1.3" />
<line x1="742.00" y1="73.03" x2="730.30" y2="73.03" stroke="#000" stroke-width="1.3" />
<line x1="91.00" y1="64.52" x2="102.70" y2="64.52" stroke="#000" stroke-width="1.3" />
<line x1="742.00" y1="64.52" x2="730.30" y2="64.52" stroke="#000" stroke-width="1.3" />
<line x1="91.00" y1="57.01" x2="102.70" y2="57.01" stroke="#000" stroke-width="1.3" />
<line x1="742.00" y1="57.01" x2="730.30" y2="57.01" stroke="#000" stroke-width="1.3" />
<line x1="91.00" y1="50.30" x2="113.90" y2="50.30" stroke="#000" stroke-width="1.3" />
<line x1="742.00" y1="50.30" x2="719.10" y2="50.30" stroke="#000" stroke-width="1.3" />
<line x1="91.00" y1="916.82" x2="106.00" y2="916.82" stroke="#000" stroke-width="1.3" />
<line x1="742.00" y1="916.82" x2="727.70" y2="916.82" stroke="#000" stroke-width="1.3" />
<line x1="91.00" y1="884.91" x2="101.30" y2="884.91" stroke="#000" stroke-width="1.3" />
<line x1="742.00" y1="884.91" x2="731.70" y2="884.91" stroke="#000" stroke-width="1.3" />
<line x1="91.00" y1="857.93" x2="101.30" y2="857.93" stroke="#000" stroke-width="1.3" />
<line x1="742.00" y1="857.93" x2="731.70" y2="857.93" stroke="#000" stroke-width="1.3" />
<line x1="91.00" y1="834.55" x2="101.30" y2="834.55" stroke="#000" stroke-width="1.3" />
<line x1="742.00" y1="834.55" x2="731.70" y2="834.55" stroke="#000" stroke-width="1.3" />
<line x1="91.00" y1="813.94" x2="101.30" y2="813.94" stroke="#000" stroke-width="1.3" />
<line x1="742.00" y1="813.94" x2="731.70" y2="813.94" stroke="#000" stroke-width="1.3" />
<line x1="91.00" y1="795.50" x2="106.00" y2="795.50" stroke="#000" stroke-width="1.3" />
<line x1="742.00" y1="795.50" x2="727.70" y2="795.50" stroke="#000" stroke-width="1.3" />
<line x1="91.00" y1="778.82" x2="101.30" y2="778.82" stroke="#000" stroke-width="1.3" />
<line x1="742.00" y1="778.82" x2="731.70" y2="778.82" stroke="#000" stroke-width="1.3" />
<line x1="91.00" y1="763.59" x2="101.30" y2="763.59" stroke="#000" stroke-width="1.3" />
<line x1="742.00" y1="763.59" x2="731.70" y2="763.59" stroke="#000" stroke-width="1.3" />
<line x1="91.00" y1="749.58" x2="101.30" y2="749.58" stroke="#000" stroke-width="1.3" />
<line x1="742.00" y1="749.58" x2="731.70" y2="749.58" stroke="#000" stroke-width="1.3" />
<line x1="91.00" y1="736.61" x2="101.30" y2="736.61" stroke="#000" stroke-width="1.3" />
<line x1="742.00" y1="736.61" x2="731.70" y2="736.61" stroke="#000" stroke-width="1.3" />
<line x1="91.00" y1="724.54" x2="106.00" y2="724.54" stroke="#000" stroke-width="1.3" />
<line x1="742.00" y1="724.54" x2="727.70" y2="724.54" stroke="#000" stroke-width="1.3" />
<line x1="91.00" y1="713.24" x2="101.30" y2="713.24" stroke="#000" stroke-width="1.3" />
<line x1="742.00" y1="713.24" x2="731.70" y2="713.24" stroke="#000" stroke-width="1.3" />
<line x1="91.00" y1="702.63" x2="101.30" y2="702.63" stroke="#000" stroke-width="1.3" />
<line x1="742.00" y1="702.63" x2="731.70" y2="702.63" stroke="#000" stroke-width="1.3" />
<line x1="91.00" y1="692.63" x2="101.30" y2="692.63" stroke="#000" stroke-width="1.3" />
<line x1="742.00" y1="692.63" x2="731.70" y2="692.63" stroke="#000" stroke-width="1.3" />
<line x1="91.00" y1="683.16" x2="101.30" y2="683.16" stroke="#000" stroke-width="1.3" />
<line x1="742.00" y1="683.16" x2="731.70" y2="683.16" stroke="#000" stroke-width="1.3" />
<line x1="91.00" y1="674.18" x2="106.00" y2="674.18" stroke="#000" stroke-width="1.3" />
<line x1="742.00" y1="674.18" x2="727.70" y2="674.18" stroke="#000" stroke-width="1.3" />
<line x1="91.00" y1="665.65" x2="101.30" y2="665.65" stroke="#000" stroke-width="1.3" />
<line x1="742.00" y1="665.65" x2="731.70" y2="665.65" stroke="#000" stroke-width="1.3" />
<line x1="91.00" y1="657.50" x2="101.30" y2="657.50" stroke="#000" stroke-width="1.3" />
<line x1="742.00" y1="657.50" x2="731.70" y2="657.50" stroke="#000" stroke-width="1.3" />
<line x1="91.00" y1="649.72" x2="101.30" y2="649.72" stroke="#000" stroke-width="1.3" />
<line x1="742.00" y1="649.72" x2="731.70" y2="649.72" stroke="#000" stroke-width="1.3" />
<line x1="91.00" y1="642.27" x2="101.30" y2="642.27" stroke="#000" stroke-width="1.3" />
<line x1="742.00" y1="642.27" x2="731.70" y2="642.27" stroke="#000" stroke-width="1.3" />
<text x="103.50" y="978.90" font-size="24" fill="#000" stroke="#000" text-anchor="middle" >0</text>
<text x="417.30" y="978.90" font-size="24" fill="#000" stroke="#000" text-anchor="middle" textLength="32.4" lengthAdjust="spacingAndGlyphs" >0.5</text>
<text x="730.00" y="978.60" font-size="24" fill="#000" stroke="#000" text-anchor="middle" >1</text>
<text x="745.60" y="1006.50" font-size="24.5" fill="#000" stroke="#000" text-anchor="end" textLength="165.5" lengthAdjust="spacingAndGlyphs" >groomed width</text>
<text x="79.50" y="60.50" font-size="22" fill="#000" stroke="#000" text-anchor="end" dx="-9.6">10</text>
<text x="79.30" y="52.00" font-size="14.5" fill="#000" stroke="#000" text-anchor="end" >2</text>
<text x="79.20" y="206.00" font-size="22" fill="#000" stroke="#000" text-anchor="end" >10</text>
<text x="80.70" y="351.80" font-size="22" fill="#000" stroke="#000" text-anchor="end" >1</text>
<text x="64.20" y="502.00" font-size="22" fill="#000" stroke="#000" text-anchor="end" >10</text>
<text x="80.20" y="493.00" font-size="14.5" fill="#000" stroke="#000" text-anchor="end" >−1</text>
<text x="77.30" y="683.00" font-size="24" fill="#000" stroke="#000" text-anchor="end" >2</text>
<text x="79.00" y="805.30" font-size="24" fill="#000" stroke="#000" text-anchor="end" >1</text>
<text x="77.30" y="925.30" font-size="24" fill="#000" stroke="#000" text-anchor="end" >0.5</text>
<text x="747.20" y="683.00" font-size="24" fill="#000" stroke="#000" text-anchor="start" >2</text>
<text x="748.60" y="805.30" font-size="24" fill="#000" stroke="#000" text-anchor="start" >1</text>
<text x="747.50" y="925.30" font-size="24" fill="#000" stroke="#000" text-anchor="start" >0.5</text>
<text x="103.50" y="28.70" font-size="24" fill="#000" stroke="#000" text-anchor="start" textLength="155.6" lengthAdjust="spacingAndGlyphs" >13000 GeV pp</text>
<text x="730.60" y="28.70" font-size="24" fill="#000" stroke="#000" text-anchor="end" >Jets</text>
<text x="75.20" y="87.40" font-size="24" fill="#000" stroke="#000" text-anchor="start" textLength="549.0" lengthAdjust="spacingAndGlyphs" >CMS, 13 TeV, AK4 jets, central dijet region, 150 &lt;p</text>
<text x="615.00" y="70.10" font-size="14.5" fill="#000" stroke="#000" text-anchor="start" >{jet</text>
<text x="615.80" y="99.80" font-size="14.5" fill="#000" stroke="#000" text-anchor="start" >T</text>
<text x="637.00" y="87.40" font-size="24" fill="#000" stroke="#000" text-anchor="start" >}</text>
<text x="645.00" y="87.40" font-size="24" fill="#000" stroke="#000" text-anchor="start" textLength="115.0" lengthAdjust="spacingAndGlyphs" >&lt; 186 GeV</text>
<text x="416.00" y="604.20" font-size="15.7" fill="#a0a0a0" stroke="#a0a0a0" text-anchor="middle" textLength="163.5" lengthAdjust="spacingAndGlyphs" >(CMS_2021_I1920187)</text>
<g transform="translate(760.4,253.6) rotate(-90)">
<text x="0.00" y="0.00" font-size="19" fill="#7f7f7f" stroke="#7f7f7f" text-anchor="start" textLength="217.5" lengthAdjust="spacingAndGlyphs" >Rivet 4.1.0, ≥ 100k events</text>
</g>
<g transform="translate(762.2,628.6) rotate(-90)">
<text x="0.00" y="0.00" font-size="19" fill="#7f7f7f" stroke="#7f7f7f" text-anchor="start" textLength="296.5" lengthAdjust="spacingAndGlyphs" >mcplots.cern.ch [arXiv:2401.10621]</text>
</g>
<g transform="translate(36.4,846.0) rotate(-90)">
<text x="0.00" y="0.00" font-size="18.5" fill="#000" stroke="#000" text-anchor="start" textLength="105.2" lengthAdjust="spacingAndGlyphs" >Ratio to CMS</text>
</g>
<g transform="translate(0,270) rotate(-90)" stroke-width="0.1">
<text x="3.20" y="27.60" font-size="24" fill="#000" stroke="#000" text-anchor="start" >#</text>
<rect x="17.40" y="20.20" width="111.90" height="2.00" fill="#000" />
<text x="67.80" y="17.80" font-size="24" fill="#000" stroke="#000" text-anchor="start" >1</text>
<text x="24.0 44.1 68.2 88.0 107.8" y="42.8" font-size="25" stroke="#000">dN/dp</text>
<text x="118.30" y="56.50" font-size="16.5" fill="#000" stroke="#000" text-anchor="start" >T</text>
<text x="130.60" y="27.60" font-size="24" fill="#000" stroke="#000" text-anchor="start" >#</text>
<rect x="144.00" y="20.20" width="91.00" height="2.00" fill="#000" />
<text x="148.7 169.0" y="42.8" font-size="25" stroke="#000">dp</text>
<text x="181.20" y="56.50" font-size="16.5" fill="#000" stroke="#000" text-anchor="start" >T</text>
<text x="205.2 221.0" y="42.8" font-size="25" stroke="#000">dλ</text>
<text x="174.10" y="17.40" font-size="25" fill="#000" stroke="#000" text-anchor="start" >d</text>
<text x="189.50" y="3.80" font-size="10" fill="#000" stroke="#000" text-anchor="start" >2</text>
<text x="195.40" y="17.40" font-size="25" fill="#000" stroke="#000" text-anchor="start" >N</text>
</g>
<rect x="147.80" y="442.60" width="10.80" height="10.40" fill="#000" />
<text x="187.20" y="454.00" font-size="18.5" fill="#000" stroke="#000" text-anchor="start" textLength="43.3" lengthAdjust="spacingAndGlyphs" >CMS</text>
<line x1="128.90" y1="474.00" x2="175.40" y2="474.00" stroke="#66294f" stroke-width="1.5" stroke-dasharray="7 4 1.4 4"/>
<rect x="148.30" y="469.40" width="9.8" height="9.2" fill="none" stroke="#66294f" stroke-width="1.2"/>
<text x="187.30" y="480.40" font-size="18.5" fill="#000" stroke="#000" text-anchor="start" textLength="141.3" lengthAdjust="spacingAndGlyphs" >Pythia 6.428 391</text>
<line x1="128.90" y1="500.00" x2="175.40" y2="500.00" stroke="#766a3c" stroke-width="1.5" stroke-dasharray="4.6 5.1 1.4 5.3"/>
<polygon points="151.50,495.65 154.90,495.65 154.90,498.30 158.00,498.30 158.00,501.70 154.90,501.70 154.90,504.35 151.50,504.35 151.50,501.70 148.40,501.70 148.40,498.30 151.50,498.30" fill="none" stroke="#766a3c" stroke-width="1.2"/>
<text x="187.30" y="506.40" font-size="18.5" fill="#000" stroke="#000" text-anchor="start" textLength="141.3" lengthAdjust="spacingAndGlyphs" >Pythia 6.428 393</text>
<line x1="128.90" y1="526.00" x2="175.40" y2="526.00" stroke="#694b32" stroke-width="1.5" stroke-dasharray="4.6 5.1 1.4 5.3"/>
<circle cx="153.20" cy="526.00" r="4.9" fill="#694b32"/>
<text x="187.30" y="532.40" font-size="18.5" fill="#000" stroke="#000" text-anchor="start" textLength="141.3" lengthAdjust="spacingAndGlyphs" >Pythia 6.428 394</text>
<line x1="128.90" y1="552.20" x2="175.40" y2="552.20" stroke="#468219" stroke-width="1.5" stroke-dasharray="4.6 5.1 1.4 5.3"/>
<polygon points="148.10,547.60 158.30,547.60 153.20,557.10" fill="#468219"/>
<text x="187.30" y="558.60" font-size="18.5" fill="#000" stroke="#000" text-anchor="start" textLength="141.3" lengthAdjust="spacingAndGlyphs" >Pythia 6.428 395</text>
</svg>
</body></html>
